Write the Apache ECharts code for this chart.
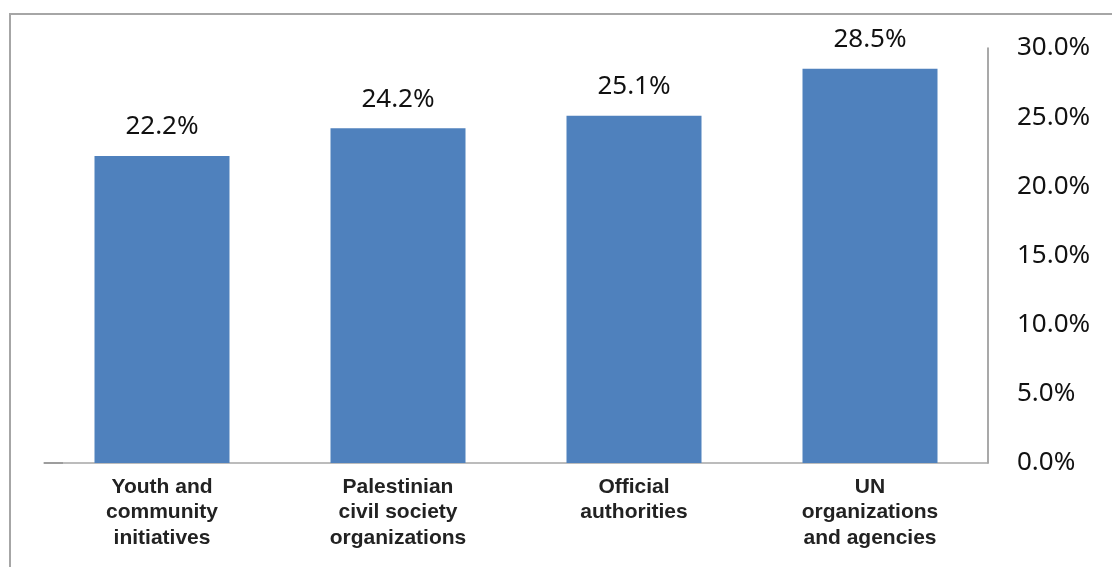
<!DOCTYPE html>
<html>
<head>
<meta charset="utf-8">
<script src="https://cdn.jsdelivr.net/npm/echarts@6/dist/echarts.min.js"></script>
<style>html,body{margin:0;padding:0;background:#fff}#c{width:1112px;height:567px}</style>
</head>
<body>
<div id="c"></div>
<script>
const categories = ['Youth and\ncommunity\ninitiatives', 'Palestinian\ncivil society\norganizations', 'Official\nauthorities', 'UN\norganizations\nand agencies'];
const values = [22.2, 24.2, 25.1, 28.5];
const yTicks = [0, 5, 10, 15, 20, 25, 30];

const chart = echarts.init(document.getElementById('c'), null, {renderer: 'canvas'});
chart.setOption({
  animation: false,
  backgroundColor: '#fff',
  grid: {left: 44, right: 124, top: 48, bottom: 104, containLabel: false},
  graphic: [
    {type: 'rect', shape: {x: 10, y: 14, width: 1200, height: 700}, style: {fill: 'none', stroke: '#a6a6a6', lineWidth: 2}, silent: true},
    {type: 'line', shape: {x1: 44, y1: 463, x2: 63, y2: 463}, style: {stroke: '#808080', lineWidth: 2}, silent: true}
  ],
  xAxis: {
    type: 'category',
    data: categories,
    axisLine: {show: true, lineStyle: {color: '#a6a6a6', width: 1.5}},
    axisTick: {show: false},
    axisLabel: {
      interval: 0, margin: 11, color: '#222',
      fontFamily: 'Liberation Sans, Arial, sans-serif', fontWeight: 'bold', fontSize: 21, lineHeight: 25.5
    }
  },
  yAxis: {
    type: 'value',
    position: 'right',
    min: 0, max: 30, interval: 5,
    axisLine: {show: true, lineStyle: {color: '#8c8c8c', width: 1.5}},
    axisTick: {show: false},
    splitLine: {show: false},
    axisLabel: {
      margin: 29, color: '#111',
      fontFamily: 'Noto Sans, sans-serif', fontSize: 26,
      formatter: v => yTicks.includes(v) ? v.toFixed(1) + '%' : ''
    }
  },
  series: [{
    type: 'bar',
    data: values,
    barWidth: 135,
    itemStyle: {color: '#4F81BD'},
    label: {
      show: true, position: 'top', distance: 16, color: '#111',
      fontFamily: 'Noto Sans, sans-serif', fontSize: 26,
      formatter: p => p.value.toFixed(1) + '%'
    }
  }]
});
</script>
</body>
</html>
